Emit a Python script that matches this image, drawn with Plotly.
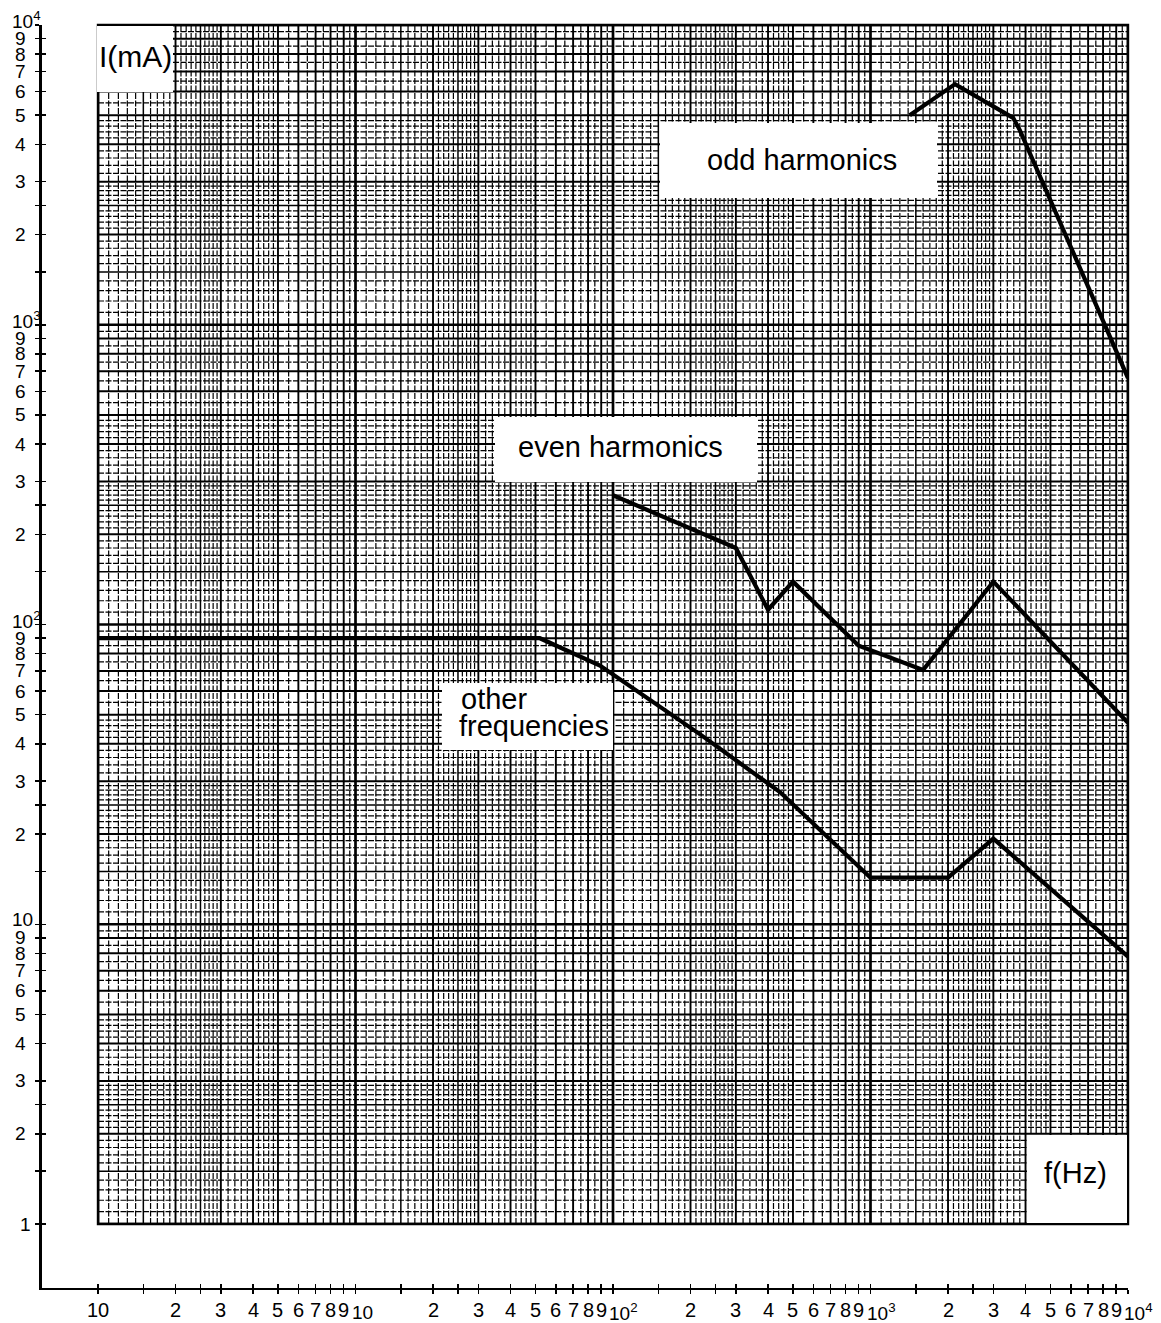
import math
import plotly.graph_objects as go

W, H = 1161, 1323

# ---------------- data ----------------
other_f = [1, 52, 89, 218, 445, 1000, 2000, 3000, 10000]
other_i = [90, 90, 73, 43, 27.6, 14.3, 14.3, 19.3, 7.8]

even_f = [100, 300, 400, 500, 900, 1600, 3000, 10000]
even_i = [270, 180, 112, 139, 85, 70.5, 139, 47]

odd_f = [1420, 2130, 3580, 3800, 10000]
odd_i = [5000, 6350, 4900, 4460, 664]

# tick labels
tick_mantissas = [1, 1.5, 2, 2.5, 3, 4, 5, 6, 7, 8, 9]
tick_mantissa_labels = ["", "", "2", "", "3", "4", "5", "6", "7", "8", "9"]
x_decade_labels = ["10", "10", "10<sup>2</sup>", "10<sup>3</sup>", "10<sup>4</sup>"]
y_decade_labels = ["1", "10", "10<sup>2</sup>", "10<sup>3</sup>", "10<sup>4</sup>"]

# graph-paper subdivisions (per decade mantissas)
grid_fine = [1.1, 1.2, 1.3, 1.4, 1.6, 1.7, 1.8, 1.9,
             2.1, 2.2, 2.3, 2.4, 2.6, 2.7, 2.8, 2.9,
             3.2, 3.4, 3.6, 3.8, 4.2, 4.4, 4.6, 4.8,
             5.5, 6.5, 7.5, 8.5, 9.5]
grid_medium = [1.5, 2.5]
grid_int = [2, 3, 4, 5, 6, 7, 8, 9]
n_decades = 4

# ---------------- layout geometry (pixels) ----------------
GX0, GX1 = 98, 1128      # grid left/right
GY0, GY1 = 25, 1224      # grid top/bottom
AX_X, AX_Y = 42, 1288    # outer axis lines

px_dec_x = (GX1 - GX0) / n_decades
px_dec_y = (GY1 - GY0) / n_decades


def fx(px):
    return px / W


def fy(py):
    return 1 - py / H


def grid_lines(mantissas, include_ends=False):
    vals = []
    for d in range(n_decades):
        for m in mantissas:
            vals.append(m * 10 ** d)
    if include_ends:
        vals.append(10 ** n_decades)
    return vals


def segs(vals, vertical):
    xs, ys = [], []
    lo, hi = 1, 10 ** n_decades
    for v in vals:
        if vertical:
            xs += [v, v, None]
            ys += [lo, hi, None]
        else:
            xs += [lo, hi, None]
            ys += [v, v, None]
    return xs, ys


fig = go.Figure()

grid_styles = [
    (grid_lines(grid_fine), dict(color="black", width=1.2, dash="6px,1.5px")),
    (grid_lines(grid_medium), dict(color="black", width=1.5)),
    (grid_lines(grid_int), dict(color="black", width=1.9)),
    (grid_lines([1], include_ends=True), dict(color="black", width=2.7)),
]
for vals, style in grid_styles:
    for vertical in (True, False):
        xs, ys = segs(vals, vertical)
        fig.add_trace(go.Scatter(x=xs, y=ys, mode="lines", line=style,
                                 hoverinfo="skip", showlegend=False))

for fx_, iy_ in [(other_f, other_i), (even_f, even_i), (odd_f, odd_i)]:
    fig.add_trace(go.Scatter(x=fx_, y=iy_, mode="lines",
                             line=dict(color="black", width=4.2),
                             hoverinfo="skip", showlegend=False))

# invisible traces so the outer axes are drawn
for ax in ("2", "3"):
    fig.add_trace(go.Scatter(x=[10], y=[10], xaxis="x" + ax, yaxis="y" + ax,
                             mode="markers", marker=dict(opacity=0),
                             hoverinfo="skip", showlegend=False))

# tick arrays
tv, x_tt, y_tt = [], [], []
for d in range(n_decades):
    for m, lab in zip(tick_mantissas, tick_mantissa_labels):
        tv.append(m * 10 ** d)
        if m == 1:
            x_tt.append(x_decade_labels[d])
            y_tt.append(y_decade_labels[d])
        else:
            x_tt.append(lab)
            y_tt.append(lab)
tv.append(10 ** n_decades)
x_tt.append(x_decade_labels[n_decades])
y_tt.append(y_decade_labels[n_decades])

FONT = "Liberation Sans, Arial, sans-serif"
digit_font = dict(family=FONT, size=20, color="black")
ydigit_font = dict(family=FONT, size=19, color="black")
decade_font = dict(family=FONT, size=19, color="black")

x_outer_range = [-(GX0 - AX_X) / px_dec_x, n_decades]
y_outer_range = [-(AX_Y - GY1) / px_dec_y, n_decades]

hidden = dict(showgrid=False, zeroline=False, showticklabels=False, ticks="",
              showline=False, automargin=False, fixedrange=True)

tick_common = dict(showgrid=False, zeroline=False, tickwidth=1.5, ticklen=4,
                   tickcolor="black", tickmode="array", tickvals=tv,
                   showticklabels=False, automargin=False, fixedrange=True)

layout = dict(
    template="none",
    width=W, height=H, autosize=False,
    margin=dict(l=0, r=0, t=0, b=0, pad=0),
    paper_bgcolor="white", plot_bgcolor="rgba(0,0,0,0)",
    hovermode=False, showlegend=False,
    xaxis=dict(type="log", range=[0, n_decades], domain=[fx(GX0), fx(GX1)],
               anchor="y", **hidden),
    yaxis=dict(type="log", range=[0, n_decades], domain=[fy(GY1), fy(GY0)],
               anchor="x", **hidden),
    xaxis2=dict(type="log", range=x_outer_range, domain=[fx(AX_X), fx(GX1)],
                anchor="y2", showline=True, linecolor="black", linewidth=2.2,
                ticks="outside", **tick_common),
    yaxis2=dict(type="log", range=y_outer_range, domain=[fy(AX_Y), fy(GY0)],
                anchor="x2", showline=True, linecolor="black", linewidth=2.8,
                ticks="outside", **tick_common),
    xaxis3=dict(type="log", range=x_outer_range, domain=[fx(AX_X), fx(GX1)],
                anchor="y3", showline=False, ticks="inside", **tick_common),
    yaxis3=dict(type="log", range=y_outer_range, domain=[fy(AX_Y), fy(GY0)],
                anchor="x3", showline=False, ticks="inside", **tick_common),
)
fig.update_layout(**layout)

# left-axis tick labels placed on the outer y axis (yref y2, log units)
for v, lab in zip(tv, y_tt):
    if not lab:
        continue
    if "sup" in lab or lab == "10":
        fig.add_annotation(text=lab, xref="paper", yref="y2", x=fx(10),
                           y=math.log10(v), xanchor="left", yanchor="middle",
                           yshift=5, showarrow=False, font=decade_font)
    elif lab == "1":
        fig.add_annotation(text=lab, xref="paper", yref="y2", x=fx(25),
                           y=math.log10(v), xanchor="center", yanchor="middle",
                           showarrow=False, font=ydigit_font)
    else:
        fig.add_annotation(text=lab, xref="paper", yref="y2", x=fx(20),
                           y=math.log10(v), xanchor="center", yanchor="middle",
                           showarrow=False, font=ydigit_font)

# bottom-axis tick labels placed on the outer x axis (xref x2, log units)
for i, (v, lab) in enumerate(zip(tv, x_tt)):
    if not lab:
        continue
    if ("sup" in lab or lab == "10") and i > 0:
        fig.add_annotation(text=lab, xref="x2", yref="paper", x=math.log10(v),
                           y=fy(1312), xanchor="left", yanchor="middle",
                           xshift=-6, showarrow=False, font=decade_font)
    else:
        fig.add_annotation(text=lab, xref="x2", yref="paper", x=math.log10(v),
                           y=fy(1310), xanchor="center", yanchor="middle",
                           showarrow=False, font=digit_font)

# grid border
fig.add_shape(type="rect", xref="paper", yref="paper",
              x0=fx(GX0), x1=fx(GX1), y0=fy(GY1), y1=fy(GY0),
              line=dict(color="black", width=2.4), layer="above")

# white label boxes (pixel boxes: x0, x1, y0, y1)
boxes = [
    (97, 173, 26, 92),       # I(mA)
    (660, 937, 123, 198),    # odd harmonics
    (495, 757, 417, 482),    # even harmonics
    (442, 613, 683, 750),    # other frequencies
    (1027, 1127, 1135, 1223),  # f(Hz)
]
for x0, x1, y0, y1 in boxes:
    fig.add_shape(type="rect", xref="paper", yref="paper",
                  x0=fx(x0), x1=fx(x1), y0=fy(y1), y1=fy(y0),
                  fillcolor="white", line=dict(width=0), layer="above")

label_font = dict(family=FONT, size=29, color="black")
labels = [
    ("I(mA)", 135, 57, "center", 30),
    ("odd harmonics", 802, 160, "center", 29),
    ("even harmonics", 621, 447, "center", 29),
    ("other", 459, 699, "left", 29),
    ("frequencies", 457, 726, "left", 29),
    ("f(Hz)", 1075, 1173, "center", 29),
]
for text, x, y, anchor, size in labels:
    fig.add_annotation(text=text, xref="paper", yref="paper", x=fx(x), y=fy(y),
                       xanchor=anchor, yanchor="middle", showarrow=False,
                       font=dict(label_font, size=size))

fig.write_html("out.html", config={"displayModeBar": False, "staticPlot": True})

# remove the default page margin so the figure sits at the window origin
with open("out.html", "r", encoding="utf-8") as fh:
    html = fh.read()
html = html.replace("<head>", "<head><style>html,body{margin:0;padding:0;overflow:hidden;}</style>", 1)
with open("out.html", "w", encoding="utf-8") as fh:
    fh.write(html)
